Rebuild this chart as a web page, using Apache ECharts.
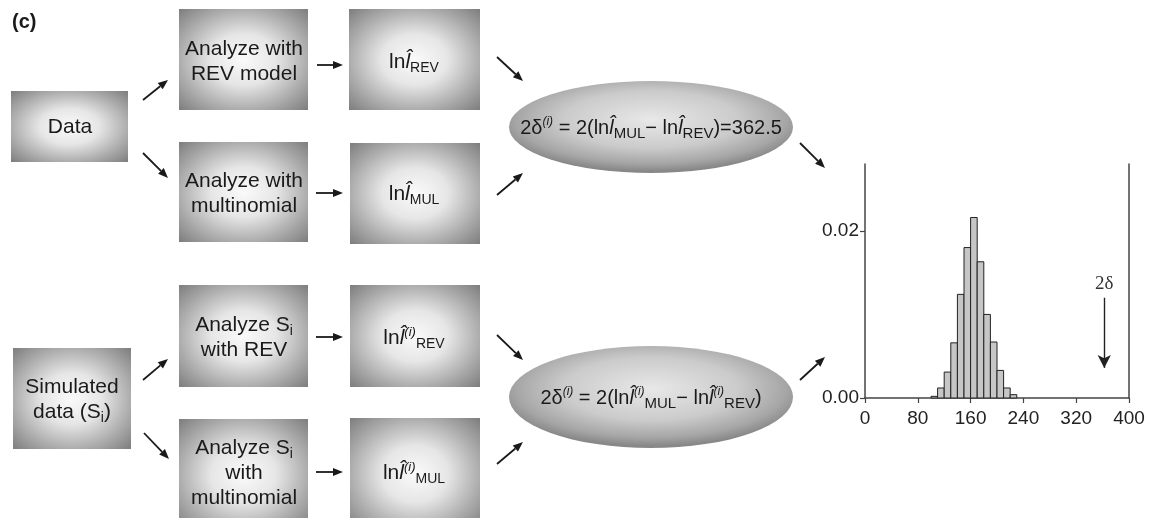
<!DOCTYPE html>
<html>
<head>
<meta charset="utf-8">
<script src="https://cdn.jsdelivr.net/npm/echarts@6.0.0/dist/echarts.min.js"></script>
<style>
  html,body{margin:0;padding:0;background:#fff;}
  #main{width:1151px;height:518px;}
</style>
</head>
<body>
<div id="main"></div>
<script>
  // histogram of simulated 2delta values (density, bin width 10)
  var binWidth = 10;
  var binStarts = [100, 110, 120, 130, 140, 150, 160, 170, 180, 190, 200, 210, 220];
  var binDensity = [0.0002, 0.0012, 0.0031, 0.0066, 0.0124, 0.0180, 0.0216, 0.0163, 0.0100, 0.0067, 0.0033, 0.0012, 0.0004];
  var xTicks = [0, 80, 160, 240, 320, 400];
  var yTicks = [0, 0.02];
  var observed2Delta = 362.5;
  var arrowFrom = 0.0120, arrowTo = 0.0036;

  var histData = binStarts.map(function (s, i) { return [s, binDensity[i]]; });

  var FONT = '"Liberation Sans", Arial, sans-serif';
  var INK = '#1a1a1a';

  function box(x1, y1, x2, y2) {
    var w = x2 - x1, h = y2 - y1;
    return {
      type: 'rect', x: (x1 + x2) / 2, y: (y1 + y2) / 2, scaleX: w / 100, scaleY: h / 100,
      shape: {x: -50, y: -50, width: 100, height: 100},
      style: {
        fill: {type: 'radial', x: 0.5, y: 0.5, r: 0.72, colorStops: [
          {offset: 0, color: '#fafafa'},
          {offset: 0.35, color: '#e6e6e6'},
          {offset: 0.7, color: '#ababab'},
          {offset: 1, color: '#7a7a7a'}
        ]}
      },
      silent: true
    };
  }

  function ellipse(cx, cy, rx, ry) {
    return {
      type: 'circle', x: cx, y: cy, scaleX: rx / ry,
      shape: {cx: 0, cy: 0, r: ry},
      style: {
        fill: {type: 'radial', x: 0.5, y: 0.42, r: 0.56, colorStops: [
          {offset: 0, color: '#e8e8e8'},
          {offset: 0.55, color: '#cbcbcb'},
          {offset: 0.85, color: '#a6a6a6'},
          {offset: 1, color: '#888888'}
        ]}
      },
      silent: true
    };
  }

  var rich = {
    t: {fontSize: 21, fontFamily: FONT, fill: INK, lineHeight: 25},
    sub: {fontSize: 14, fontFamily: FONT, fill: INK, lineHeight: 14, padding: [12, 0, 0, 0]},
    it: {fontSize: 21, fontFamily: FONT, fontStyle: 'italic', fill: INK, lineHeight: 25},
    f: {fontSize: 20, fontFamily: FONT, fill: INK, lineHeight: 26},
    fi: {fontSize: 20, fontFamily: FONT, fontStyle: 'italic', fill: INK, lineHeight: 26},
    fsub: {fontSize: 15, fontFamily: FONT, fill: INK, lineHeight: 15, padding: [12, 0, 0, 0]},
    fsup: {fontSize: 12, fontFamily: FONT, fontStyle: 'italic', fill: INK, lineHeight: 12, padding: [0, 0, 12, 0]},
    sup: {fontSize: 13, fontFamily: FONT, fontStyle: 'italic', fill: INK, lineHeight: 13, padding: [0, 0, 12, 0]}
  };

  function label(x, y, text) {
    return {
      type: 'text', x: x, y: y, silent: true,
      style: {text: text, rich: rich, align: 'center', verticalAlign: 'middle', fontFamily: FONT, fontSize: 21, fill: INK}
    };
  }

  function arrow(x1, y1, x2, y2) {
    var a = Math.atan2(y2 - y1, x2 - x1), len = 10, half = 4;
    var bx = x2 - len * Math.cos(a), by = y2 - len * Math.sin(a);
    return [
      {type: 'line', silent: true, shape: {x1: x1, y1: y1, x2: bx, y2: by}, style: {stroke: INK, lineWidth: 1.8}},
      {type: 'polygon', silent: true, shape: {points: [
        [x2, y2],
        [bx + half * Math.sin(a), by - half * Math.cos(a)],
        [bx - half * Math.sin(a), by + half * Math.cos(a)]
      ]}, style: {fill: INK}}
    ];
  }

  var hatL = 'l\u0302';
  var elements = [
    {type: 'text', x: 12, y: 12, silent: true, style: {text: '(c)', fontFamily: FONT, fontSize: 20, fontWeight: 'bold', fill: INK}},
    box(11, 91, 128, 162), label(70, 127, '{t|Data}'),
    box(179, 9, 308, 110), label(244, 62, '{t|Analyze with}\n{t|REV model}'),
    box(349, 9, 480, 110), label(414, 62, '{t|ln}{it|' + hatL + '}{sub|REV}'),
    box(179, 142, 308, 242), label(244, 194, '{t|Analyze with}\n{t|multinomial}'),
    box(350, 143, 480, 244), label(414, 194, '{t|ln}{it|' + hatL + '}{sub|MUL}'),
    box(179, 285, 308, 387), label(244, 338, '{t|Analyze S}{sub|i}\n{t|with REV}'),
    box(350, 285, 480, 387), label(414, 338, '{t|ln}{it|' + hatL + '}{sup|(i)}{sub|REV}'),
    box(13, 348, 131, 449), label(72, 400, '{t|Simulated}\n{t|data (S}{sub|i}{t|)}'),
    box(179, 419, 308, 530), label(244, 473, '{t|Analyze S}{sub|i}\n{t|with}\n{t|multinomial}'),
    box(350, 418, 480, 530), label(414, 473, '{t|ln}{it|' + hatL + '}{sup|(i)}{sub|MUL}'),
    ellipse(651, 127, 142, 46),
    label(651, 128, '{f|2\u03b4}{fsup|(i)}{f| = 2(ln}{fi|' + hatL + '}{fsub|MUL}{f|\u2212 ln}{fi|' + hatL + '}{fsub|REV}{f|)=362.5}'),
    ellipse(651, 397, 142, 51),
    label(651, 398, '{f|2\u03b4}{fsup|(i)}{f| = 2(ln}{fi|' + hatL + '}{fsup|(i)}{fsub|MUL}{f|\u2212 ln}{fi|' + hatL + '}{fsup|(i)}{fsub|REV}{f|)}')
  ];

  var arrows = [
    [143, 100, 168, 80], [143, 153, 168, 178],
    [317, 65, 343, 65], [316, 193, 343, 193],
    [497, 57, 523, 81], [497, 195, 523, 173],
    [800, 143, 825, 168],
    [143, 380, 168, 359], [144, 433, 169, 459],
    [316, 337, 343, 337], [316, 472, 343, 472],
    [497, 335, 523, 360], [497, 464, 523, 442],
    [800, 380, 825, 357]
  ];
  arrows.forEach(function (a) { elements = elements.concat(arrow(a[0], a[1], a[2], a[3])); });

  var chart = echarts.init(document.getElementById('main'));
  var option = {
    animation: false,
    backgroundColor: '#fff',
    grid: {left: 865, top: 164, right: 22, bottom: 120},
    xAxis: {
      type: 'value', min: 0, max: 400, interval: 80,
      splitLine: {show: false},
      axisLine: {lineStyle: {color: '#444', width: 1.5}},
      axisTick: {show: true, length: 5, lineStyle: {color: '#444', width: 1.2}, customValues: xTicks},
      axisLabel: {color: '#222', fontSize: 19, fontFamily: FONT, margin: 11, customValues: xTicks}
    },
    yAxis: [{
      type: 'value', min: 0, max: 0.028, interval: 0.02,
      splitLine: {show: false},
      axisLine: {show: true, lineStyle: {color: '#444', width: 1.5}},
      axisTick: {show: true, length: 5, lineStyle: {color: '#444', width: 1.2}, customValues: yTicks},
      axisLabel: {color: '#222', fontSize: 19, fontFamily: FONT, margin: 6, customValues: yTicks,
        formatter: function (v) { return v.toFixed(2); }}
    }, {
      type: 'value', min: 0, max: 0.028, position: 'right',
      splitLine: {show: false},
      axisLine: {show: true, lineStyle: {color: '#444', width: 1.5}},
      axisTick: {show: false}, axisLabel: {show: false}
    }],
    graphic: {elements: elements},
    series: [{
      type: 'custom',
      data: histData,
      encode: {x: 0, y: 1},
      renderItem: function (params, api) {
        var x0 = api.value(0), h = api.value(1);
        var p0 = api.coord([x0, h]);
        var p1 = api.coord([x0 + binWidth, 0]);
        return {
          type: 'rect',
          shape: {x: p0[0], y: p0[1], width: p1[0] - p0[0], height: p1[1] - p0[1]},
          style: {fill: '#c6c6c6', stroke: '#222', lineWidth: 1}
        };
      }
    }, {
      type: 'line',
      data: [],
      markLine: {
        silent: true,
        symbol: ['none', 'arrow'],
        symbolSize: [10, 13],
        lineStyle: {color: '#222', width: 1.4, type: 'solid'},
        label: {show: true, position: 'start', formatter: '2\u03b4', color: '#333',
          fontFamily: '"Liberation Serif", serif', fontSize: 19, distance: 4},
        data: [[{coord: [observed2Delta, arrowFrom]}, {coord: [observed2Delta, arrowTo]}]]
      }
    }]
  };
  chart.setOption(option);
</script>
</body>
</html>
